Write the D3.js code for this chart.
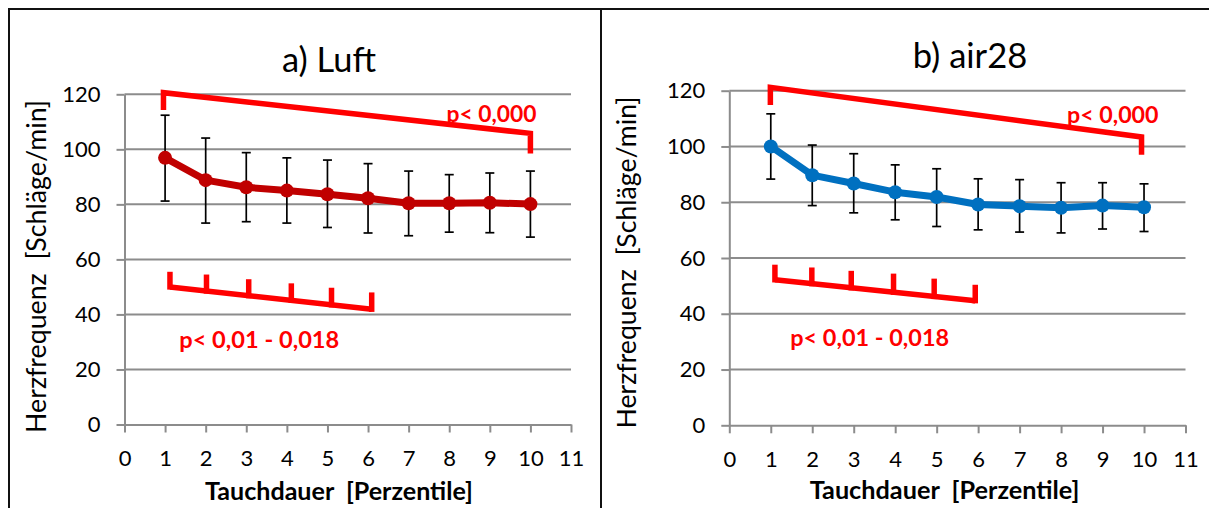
<!DOCTYPE html>
<html><head><meta charset="utf-8">
<script src="https://cdn.jsdelivr.net/npm/d3@7"></script>
<style>
html,body{margin:0;padding:0;background:#fff;}
svg{display:block;}
text{font-family:Lato,"Open Sans",sans-serif;white-space:pre;}
</style>
</head><body>
<svg id="chart" width="1209" height="508"></svg>
<script>
// ---- data ----
const categories = [1, 2, 3, 4, 5, 6, 7, 8, 9, 10];
const xTickValues = [0, 1, 2, 3, 4, 5, 6, 7, 8, 9, 10, 11];
const yTickValues = [0, 20, 40, 60, 80, 100, 120];

const luftMean  = [96.9, 88.8, 86.2, 85.0, 83.7, 82.2, 80.4, 80.4, 80.6, 80.1];
const luftUpper = [112.4, 104.1, 98.8, 96.9, 96.1, 94.8, 92.1, 90.8, 91.4, 92.1];
const luftLower = [81.2, 73.2, 73.7, 73.2, 71.6, 69.6, 68.6, 69.9, 69.7, 68.1];

const air28Mean  = [100.0, 89.7, 86.7, 83.6, 81.9, 79.2, 78.6, 78.0, 78.8, 78.2];
const air28Upper = [111.7, 100.5, 97.4, 93.4, 92.0, 88.4, 88.1, 87.0, 87.0, 86.6];
const air28Lower = [88.3, 78.8, 76.2, 73.7, 71.3, 70.1, 69.3, 69.0, 70.4, 69.5];

// significance brackets (data coordinates)
const luftLongBracket  = [[0.96, 114.3], [0.96, 120.6], [10.0, 105.8], [10.0, 98.5]];
const air28LongBracket = [[0.99, 114.9], [0.99, 121.2], [9.94, 103.4], [9.94, 97.0]];
const luftShortLine  = [[1.12, 50.0], [6.09, 41.9]];
const luftShortTicks = [1.12, 2.02, 3.06, 4.11, 5.10, 6.09];
const luftShortTops  = [55.5, 54.5, 52.8, 51.3, 49.7, 48.0];
const air28ShortLine  = [[1.10, 52.2], [5.93, 44.7]];
const air28ShortTicks = [1.10, 1.99, 2.94, 3.96, 4.94, 5.93];
const air28ShortTops  = [57.6, 56.6, 55.4, 54.4, 52.6, 50.4];

const longLabel = "p< 0,000";
const shortLabel = "p< 0,01 - 0,018";
const xTitle = "Tauchdauer  [Perzentile]";
const yTitle = "Herzfrequenz  [Schläge/min]";

// ---- layout ----
const svg = d3.select("#chart");
const GRID = "#8c8c8c";
const RED = "#ff0000";

function fit(sel, target) {
  const w = sel.node().getComputedTextLength();
  const fs = parseFloat(sel.attr("font-size"));
  sel.attr("font-size", fs * target / w);
  return sel;
}

// frame
svg.append("line").attr("x1", 9).attr("x2", 1209).attr("y1", 9).attr("y2", 9).attr("stroke", "#111").attr("stroke-width", 2.2);
svg.append("line").attr("x1", 9).attr("x2", 9).attr("y1", 8).attr("y2", 508).attr("stroke", "#111").attr("stroke-width", 2);
svg.append("line").attr("x1", 601).attr("x2", 601).attr("y1", 8).attr("y2", 508).attr("stroke", "#111").attr("stroke-width", 2);

const panels = [
  {title: "a) Luft", mean: luftMean, upper: luftUpper, lower: luftLower, color: "#c00000",
   longBr: luftLongBracket, shortLine: luftShortLine, shortTicks: luftShortTicks, shortTops: luftShortTops,
   xr: [124.5, 571], yr: [424.5, 94.3],
   titleX: 329, titleY: 71.7, titleW: 94,
   xTitleX: 339, xTitleY: 500, xTitleW: 268,
   yTitleX: 45.5, yTitleY: 266.5, yTitleW: 333,
   longLab: [10.15, 110.0], longLabW: 90,
   shortLab: [1.35, 27.7], shortLabW: 160},
  {title: "b) air28", mean: air28Mean, upper: air28Upper, lower: air28Lower, color: "#0070c0",
   longBr: air28LongBracket, shortLine: air28ShortLine, shortTicks: air28ShortTicks, shortTops: air28ShortTops,
   xr: [729.3, 1185.5], yr: [425.3, 90.7],
   titleX: 970, titleY: 68.3, titleW: 114.6,
   xTitleX: 944.6, xTitleY: 498.5, xTitleW: 270,
   yTitleX: 635.7, yTitleY: 262.5, yTitleW: 332,
   longLab: [10.35, 108.4], longLabW: 91.6,
   shortLab: [1.47, 28.3], shortLabW: 159}
];

panels.forEach(p => {
  const x = d3.scaleLinear().domain([0, 11]).range(p.xr);
  const y = d3.scaleLinear().domain([0, 120]).range(p.yr);
  const g = svg.append("g");

  // gridlines
  g.append("g").selectAll("line").data(yTickValues.filter(v => v > 0)).join("line")
    .attr("x1", x(0)).attr("x2", x(11)).attr("y1", d => y(d)).attr("y2", d => y(d))
    .attr("stroke", GRID).attr("stroke-width", 2);

  // y axis
  const ya = g.append("g").attr("transform", `translate(${x(0)},0)`)
    .call(d3.axisLeft(y).tickValues(yTickValues).tickSize(8).tickSizeOuter(0).tickPadding(16));
  // x axis
  const xa = g.append("g").attr("transform", `translate(0,${y(0)})`)
    .call(d3.axisBottom(x).tickValues(xTickValues).tickSize(8).tickSizeOuter(0).tickPadding(18));
  [ya, xa].forEach(a => {
    a.select(".domain").attr("stroke", GRID).attr("stroke-width", 2);
    a.selectAll(".tick line").attr("stroke", GRID).attr("stroke-width", 2);
    a.selectAll(".tick text").attr("fill", "#000").attr("font-size", 22)
      .style("font-family", "Lato, 'Open Sans', sans-serif");
  });

  // significance annotations
  const lineGen = d3.line().x(d => x(d[0])).y(d => y(d[1]));
  g.append("path").attr("d", lineGen(p.longBr)).attr("fill", "none")
    .attr("stroke", RED).attr("stroke-width", 5.5).attr("stroke-linejoin", "miter");
  g.append("path").attr("d", lineGen(p.shortLine)).attr("fill", "none")
    .attr("stroke", RED).attr("stroke-width", 5.5);
  const lineY = d3.scaleLinear().domain([p.shortLine[0][0], p.shortLine[1][0]]).range([p.shortLine[0][1], p.shortLine[1][1]]);
  g.append("g").selectAll("line").data(p.shortTicks).join("line")
    .attr("x1", d => x(d)).attr("x2", d => x(d))
    .attr("y1", d => y(lineY(d)) + 2.7).attr("y2", (d, i) => y(p.shortTops[i]))
    .attr("stroke", RED).attr("stroke-width", 5.5);

  // error bars
  const eb = g.append("g").selectAll("g").data(categories).join("g");
  eb.append("line").attr("x1", d => x(d)).attr("x2", d => x(d))
    .attr("y1", (d, i) => y(p.upper[i])).attr("y2", (d, i) => y(p.lower[i]))
    .attr("stroke", "#000").attr("stroke-width", 1.7);
  eb.append("line").attr("x1", d => x(d) - 4.5).attr("x2", d => x(d) + 4.5)
    .attr("y1", (d, i) => y(p.upper[i])).attr("y2", (d, i) => y(p.upper[i]))
    .attr("stroke", "#000").attr("stroke-width", 1.7);
  eb.append("line").attr("x1", d => x(d) - 4.5).attr("x2", d => x(d) + 4.5)
    .attr("y1", (d, i) => y(p.lower[i])).attr("y2", (d, i) => y(p.lower[i]))
    .attr("stroke", "#000").attr("stroke-width", 1.7);

  // mean line and markers
  const meanLine = d3.line().x((d, i) => x(categories[i])).y(d => y(d));
  g.append("path").attr("d", meanLine(p.mean)).attr("fill", "none")
    .attr("stroke", p.color).attr("stroke-width", 7).attr("stroke-linejoin", "round");
  g.append("g").selectAll("circle").data(p.mean).join("circle")
    .attr("cx", (d, i) => x(categories[i])).attr("cy", d => y(d)).attr("r", 7)
    .attr("fill", p.color);

  // red labels
  fit(g.append("text").attr("x", x(p.longLab[0])).attr("y", y(p.longLab[1]))
    .attr("text-anchor", "end").attr("font-weight", "bold").attr("font-size", 20)
    .attr("fill", RED).text(longLabel), p.longLabW);
  fit(g.append("text").attr("x", x(p.shortLab[0])).attr("y", y(p.shortLab[1]))
    .attr("text-anchor", "start").attr("font-weight", "bold").attr("font-size", 20)
    .attr("fill", RED).text(shortLabel), p.shortLabW);

  // titles
  fit(g.append("text").attr("x", p.titleX).attr("y", p.titleY).attr("text-anchor", "middle")
    .attr("font-size", 28).attr("fill", "#000").text(p.title), p.titleW);
  fit(g.append("text").attr("x", p.xTitleX).attr("y", p.xTitleY).attr("text-anchor", "middle")
    .attr("font-size", 20).attr("font-weight", "bold").attr("fill", "#000").text(xTitle), p.xTitleW);
  fit(g.append("text").attr("transform", `translate(${p.yTitleX},${p.yTitleY}) rotate(-90)`)
    .attr("text-anchor", "middle").attr("font-size", 24).attr("fill", "#000").text(yTitle), p.yTitleW);
});
</script>
</body></html>
